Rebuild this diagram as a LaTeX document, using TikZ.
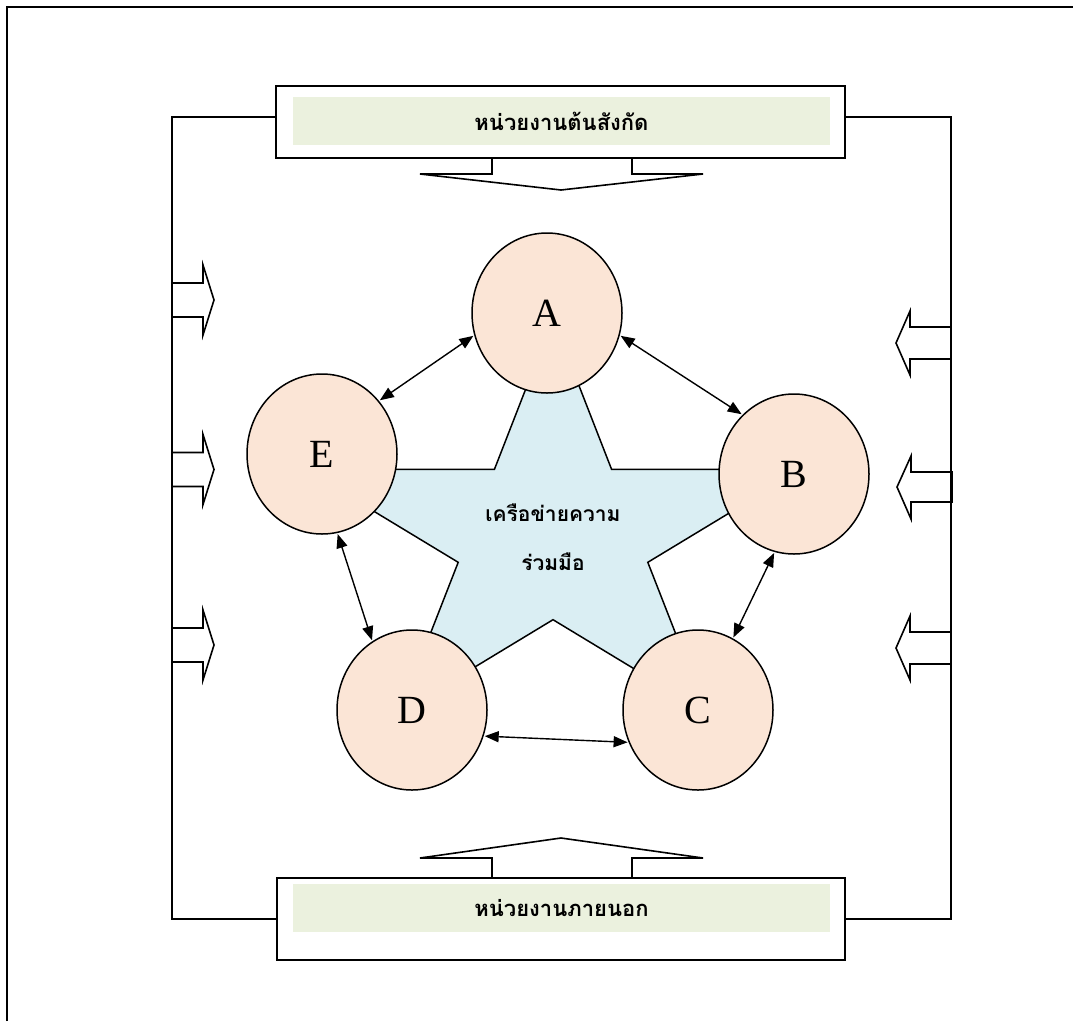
\documentclass[tikz,border=0pt]{standalone}
\usepackage{fontspec}
\setmainfont{Liberation Serif}
\newfontfamily\thai[Script=Thai]{Loma}
\usetikzlibrary{shapes.geometric,arrows.meta,calc}
\definecolor{peach}{HTML}{FBE5D6}
\definecolor{starblue}{HTML}{DAEEF3}
\definecolor{boxgreen}{HTML}{EBF1DE}
\begin{document}
\begin{tikzpicture}[x=1pt,y=-1pt,line join=miter,
  every path/.style={line width=1.6pt},
  circ/.style={draw,fill=peach,ellipse,minimum width=150pt,minimum height=160pt,inner sep=0pt,line width=1.5pt,font=\fontsize{40}{44}\selectfont},
  outerbox/.style={draw,fill=white,rectangle,inner sep=0pt,line width=1.6pt},
  greenbox/.style={fill=boxgreen,rectangle,inner sep=0pt,minimum width=537pt,minimum height=48pt,font=\thai\bfseries\fontsize{22}{26}\selectfont},
  startext/.style={font=\thai\bfseries\fontsize{21}{25}\selectfont,align=center},
  dblarrow/.style={{Triangle[length=14pt,width=11pt]}-{Triangle[length=14pt,width=11pt]},line width=1.4pt,shorten <=1pt,shorten >=1pt},
  blockarrow/.style={line width=1.6pt}]
\useasboundingbox (0,0) rectangle (1073,1021);
% outer frame
\draw[line width=2pt] (7,1021) -- (7,7) -- (1073,7);

% star
\draw[fill=starblue,line width=1.5pt] (553,319) -- (611.6,469.4) -- (801.3,469.4) -- (647.8,562.3) -- (706.5,712.6) -- (553,619.7) -- (399.5,712.6) -- (458.2,562.3) -- (304.7,469.4) -- (494.4,469.4) -- cycle;
\node[startext] (net) at (553,513) {เครือข่ายความ};
\node[startext] (net2) at (553,562) {ร่วมมือ};

% circles
\node[circ] (A) at (547,313) {A};
\node[circ] (B) at (794,474) {B};
\node[circ] (C) at (698,710) {C};
\node[circ] (D) at (412,710) {D};
\node[circ] (E) at (322,454) {E};

% double arrows
\draw[dblarrow] (A.197) -- (E.43);
\draw[dblarrow] (A.343) -- (B.131);
\draw[dblarrow] (B.256) -- (C.64);
\draw[dblarrow] (C.205) -- (D.340);
\draw[dblarrow] (D.120) -- (E.281);

% top box
\node[outerbox,minimum width=569pt,minimum height=72pt] (topbox) at (560.5,122) {};
\node[greenbox] (toptext) at (561.5,121) {หน่วยงานต้นสังกัด};
% bottom box
\node[outerbox,minimum width=568pt,minimum height=82pt] (botbox) at (561,919) {};
\node[greenbox] (bottext) at (561.5,908) {หน่วยงานภายนอก};

% big down arrow
\draw[blockarrow] (492,158) -- (492,174) -- (420,174) -- (561,190) -- (703,174) -- (632,174) -- (632,158);
% big up arrow
\draw[blockarrow] (492,878) -- (492,858) -- (420,858) -- (561,838) -- (703,858) -- (632,858) -- (632,878);

% side connectors
\draw ([yshift=5pt]topbox.west) -| (172,919) -- (botbox.west);
\draw ([yshift=5pt]topbox.east) -| (951,919) -- (botbox.east);

% left block arrows
\foreach \c in {300,469.5,645}{
  \draw[blockarrow] (172,\c-17) -- (203,\c-17) -- (203,\c-35) -- (214,\c) -- (203,\c+35) -- (203,\c+17) -- (172,\c+17);
}
% right block arrows
\foreach \c in {343,648}{
  \draw[blockarrow] (951,\c-16) -- (910,\c-16) -- (910,\c-32) -- (896,\c) -- (910,\c+32) -- (910,\c+16) -- (951,\c+16);
}
\draw[blockarrow] (952,472) -- (911,472) -- (911,456) -- (897,487) -- (911,519) -- (911,502) -- (952,502) -- cycle;
\end{tikzpicture}
\end{document}
